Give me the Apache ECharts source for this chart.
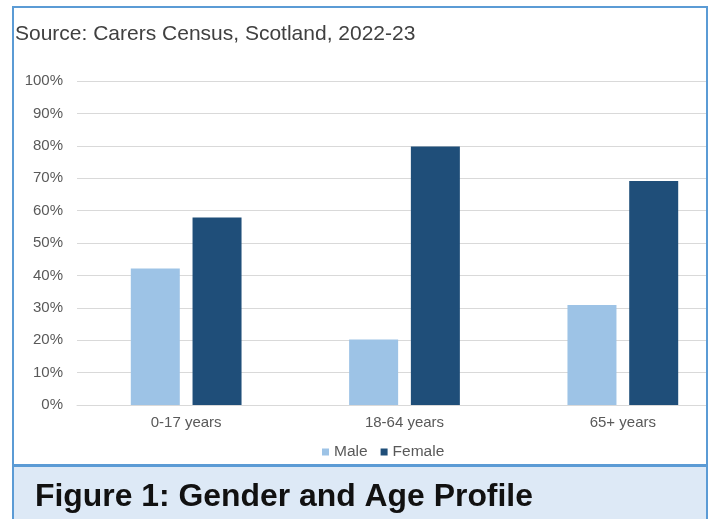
<!DOCTYPE html>
<html>
<head>
<meta charset="utf-8">
<script src="https://cdn.jsdelivr.net/npm/echarts@6/dist/echarts.min.js"></script>
<style>
html,body{margin:0;padding:0;background:#fff;}
#chart{width:710px;height:519px;}
</style>
</head>
<body>
<div id="chart"></div>
<script>
var categories = ['0-17 years', '18-64 years', '65+ years'];
var maleValues = [42.1, 20.2, 30.9];
var femaleValues = [57.9, 79.8, 69.1];
var seriesNames = ['Male', 'Female'];

var chart = echarts.init(document.getElementById('chart'));
var font = 'Liberation Sans, Arial, sans-serif';
chart.setOption({
  animation: false,
  backgroundColor: '#ffffff',
  title: [{
    text: 'Source: Carers Census, Scotland, 2022-23',
    left: 10, top: 19,
    textStyle: {fontFamily: font, fontSize: 21, fontWeight: 'normal', color: '#404040'}
  }, {
    text: 'Figure 1: Gender and Age Profile',
    left: 30, top: 476,
    textStyle: {fontFamily: font, fontSize: 31.9, fontWeight: 'bold', color: '#111111'},
    z: 20
  }],
  legend: {
    data: seriesNames,
    left: 317, top: 439,
    icon: 'rect', itemWidth: 7, itemHeight: 7, itemGap: 13,
    textStyle: {fontFamily: font, fontSize: 15.5, color: '#595959'}
  },
  grid: {left: 77, top: 81, width: 655, height: 324, containLabel: false, outerBoundsMode: 'none'},
  xAxis: {
    type: 'category', data: categories,
    axisLine: {show: true, lineStyle: {color: '#d9d9d9', width: 1}},
    axisTick: {show: false},
    axisLabel: {fontFamily: font, fontSize: 15, color: '#595959', margin: 10}
  },
  yAxis: {
    type: 'value', min: 0, max: 100, interval: 10,
    axisLine: {show: false}, axisTick: {show: false},
    axisLabel: {fontFamily: font, fontSize: 15, color: '#595959', margin: 14, formatter: '{value}%'},
    splitLine: {lineStyle: {color: '#d9d9d9', width: 1}}
  },
  series: [{
    name: 'Male', type: 'bar', data: maleValues, barWidth: 49, barGap: '26%',
    itemStyle: {color: '#9DC3E6'}
  }, {
    name: 'Female', type: 'bar', data: femaleValues, barWidth: 49, barGap: '26%',
    itemStyle: {color: '#1F4E79'}
  }],
  graphic: [{
    type: 'rect', z: 100, silent: true,
    shape: {x: 708, y: 0, width: 10, height: 519},
    style: {fill: '#ffffff'}
  }, {
    type: 'rect', z: 101, silent: true,
    shape: {x: 13, y: 7, width: 694, height: 458},
    style: {fill: 'none', stroke: '#5B9BD5', lineWidth: 2}
  }, {
    type: 'rect', z: 10, silent: true,
    shape: {x: 13, y: 466, width: 694, height: 60},
    style: {fill: '#DDE9F6', stroke: '#5B9BD5', lineWidth: 2}
  }]
});
</script>
</body>
</html>
